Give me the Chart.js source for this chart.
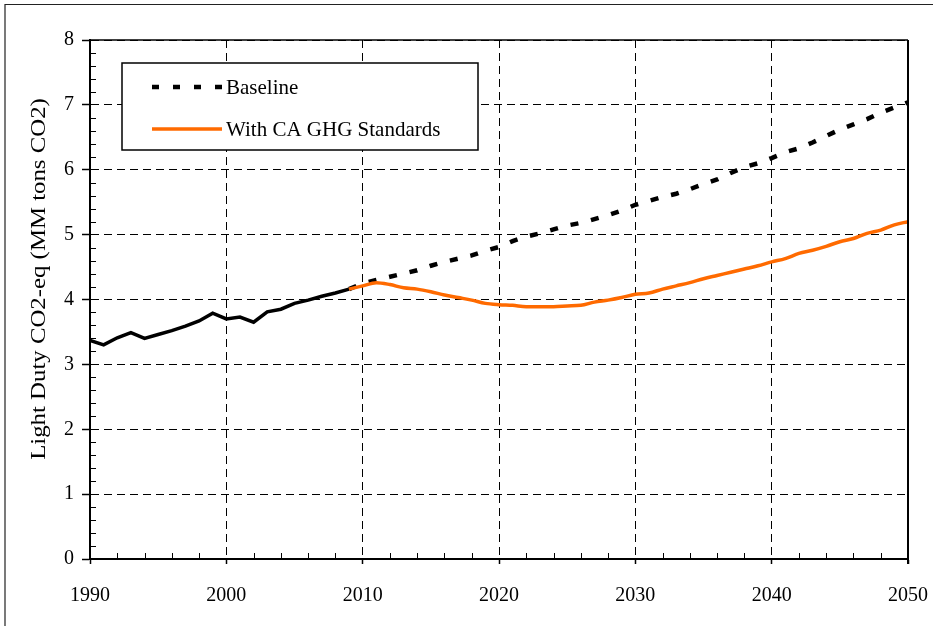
<!DOCTYPE html>
<html>
<head>
<meta charset="utf-8">
<script src="https://cdn.jsdelivr.net/npm/chart.js@4/dist/chart.umd.min.js"></script>
<style>
    html, body { margin: 0; padding: 0; background: #fff; }
    #wrap { width: 933px; height: 626px; position: relative; }
</style>
</head>
<body>
<div id="wrap"><canvas id="co2Chart" width="933" height="626"></canvas></div>
<script>
// Данные графика
const histYears = [1990, 1991, 1992, 1993, 1994, 1995, 1996, 1997, 1998, 1999,
                   2000, 2001, 2002, 2003, 2004, 2005, 2006, 2007, 2008, 2009];
const histValues = [3.37, 3.30, 3.41, 3.49, 3.40, 3.46, 3.52, 3.59, 3.67, 3.79,
                    3.70, 3.73, 3.65, 3.81, 3.85, 3.94, 3.99, 4.05, 4.10, 4.16];

const projYears = [2009, 2010, 2011, 2012, 2013, 2014, 2015, 2016, 2017, 2018, 2019,
                   2020, 2021, 2022, 2023, 2024, 2025, 2026, 2027, 2028, 2029,
                   2030, 2031, 2032, 2033, 2034, 2035, 2036, 2037, 2038, 2039,
                   2040, 2041, 2042, 2043, 2044, 2045, 2046, 2047, 2048, 2049, 2050];
const baselineValues = [4.16, 4.25, 4.30, 4.35, 4.40, 4.45, 4.52, 4.58, 4.63, 4.68, 4.75,
                        4.81, 4.90, 4.97, 5.02, 5.08, 5.14, 5.18, 5.24, 5.30, 5.37,
                        5.46, 5.52, 5.58, 5.63, 5.70, 5.78, 5.85, 5.95, 6.04, 6.10,
                        6.18, 6.27, 6.33, 6.42, 6.52, 6.62, 6.70, 6.78, 6.88, 6.96, 7.04];
const standardsValues = [4.16, 4.21, 4.26, 4.23, 4.18, 4.16, 4.12, 4.07, 4.03, 3.99, 3.94,
                         3.92, 3.91, 3.89, 3.89, 3.89, 3.90, 3.91, 3.96, 3.99, 4.03,
                         4.08, 4.10, 4.16, 4.21, 4.26, 4.32, 4.37, 4.42, 4.47, 4.52,
                         4.58, 4.63, 4.71, 4.76, 4.82, 4.89, 4.94, 5.02, 5.07, 5.15, 5.20];

const seriesNames = ['Baseline', 'With CA GHG Standards'];
const yTitle = 'Light Duty CO2-eq (MM tons CO2)';
const xTicks = [1990, 2000, 2010, 2020, 2030, 2040, 2050];
const yTicks = [0, 1, 2, 3, 4, 5, 6, 7, 8];

const FONT = '"Liberation Serif", "Times New Roman", serif';
const ORANGE = '#ff6a00';

const toPoints = (xs, ys) => xs.map((x, i) => ({ x: x, y: ys[i] }));

// Рамка, мелкие засечки, подпись оси и легенда
const decorPlugin = {
    id: 'decor',
    beforeDraw(chart) {
        const ctx = chart.ctx;
        ctx.save();
        ctx.fillStyle = '#fff';
        ctx.fillRect(0, 0, chart.width, chart.height);
        // внешняя рамка (слева и сверху)
        ctx.strokeStyle = '#222';
        ctx.lineWidth = 1.2;
        ctx.beginPath();
        ctx.moveTo(5, chart.height);
        ctx.lineTo(5, 4.5);
        ctx.lineTo(chart.width, 4.5);
        ctx.stroke();
        ctx.restore();
    },
    afterDatasetsDraw(chart) {
        const ctx = chart.ctx;
        const a = chart.chartArea;
        const xs = chart.scales.x;
        const ys = chart.scales.y;
        ctx.save();

        // верх и правая граница области графика
        ctx.strokeStyle = '#000';
        ctx.lineWidth = 1.5;
        ctx.beginPath();
        ctx.moveTo(a.left, a.top);
        ctx.lineTo(a.right, a.top);
        ctx.stroke();
        ctx.lineWidth = 2;
        ctx.beginPath();
        ctx.moveTo(a.right, a.top);
        ctx.lineTo(a.right, a.bottom + 5);
        ctx.stroke();

        // мелкие засечки
        ctx.lineWidth = 1;
        ctx.beginPath();
        for (let v = 0.2; v < 8; v += 0.2) {
            if (Math.abs(v - Math.round(v)) < 0.01) continue;
            const py = Math.round(ys.getPixelForValue(v)) + 0.5;
            ctx.moveTo(a.left, py);
            ctx.lineTo(a.left + 6, py);
        }
        for (let yr = 1992; yr < 2050; yr += 2) {
            if (yr % 10 === 0) continue;
            const px = Math.round(xs.getPixelForValue(yr)) + 0.5;
            ctx.moveTo(px, a.bottom);
            ctx.lineTo(px, a.bottom - 6);
        }
        ctx.stroke();

        // подпись оси Y
        ctx.fillStyle = '#000';
        ctx.font = '20px ' + FONT;
        ctx.textAlign = 'center';
        ctx.textBaseline = 'middle';
        ctx.translate(40, 279);
        ctx.rotate(-Math.PI / 2);
        ctx.scale(1.24, 1);
        ctx.fillText(yTitle, 0, 0);
        ctx.setTransform(1, 0, 0, 1, 0, 0);

        // легенда
        ctx.fillStyle = '#fff';
        ctx.fillRect(122, 63, 356, 87);
        ctx.strokeStyle = '#000';
        ctx.lineWidth = 1.5;
        ctx.strokeRect(122, 63, 356, 87);

        const ds = chart.data.datasets;
        const rows = [
            { d: ds[2], y: 87 },
            { d: ds[0], y: 129 }
        ];
        rows.forEach(r => {
            ctx.strokeStyle = r.d.borderColor;
            ctx.lineWidth = r.d.borderDash.length ? 4.5 : 3.5;
            ctx.setLineDash(r.d.borderDash.length ? [7, 14] : []);
            ctx.beginPath();
            ctx.moveTo(152, r.y);
            ctx.lineTo(222, r.y);
            ctx.stroke();
            ctx.setLineDash([]);
            ctx.fillStyle = '#000';
            ctx.font = '21px ' + FONT;
            ctx.textAlign = 'left';
            ctx.textBaseline = 'middle';
            ctx.fillText(r.d.label, 226, r.y + 1);
        });
        ctx.restore();
    }
};

const ctx = document.getElementById('co2Chart').getContext('2d');

new Chart(ctx, {
    type: 'line',
    data: {
        datasets: [
            {
                label: seriesNames[1],
                data: toPoints(projYears, standardsValues),
                borderColor: ORANGE,
                borderWidth: 3.5,
                borderDash: [],
                pointRadius: 0,
                cubicInterpolationMode: 'monotone'
            },
            {
                label: 'Historical',
                data: toPoints(histYears, histValues),
                borderColor: '#000',
                borderWidth: 3.5,
                borderDash: [],
                pointRadius: 0,
                tension: 0
            },
            {
                label: seriesNames[0],
                data: toPoints(projYears, baselineValues),
                borderColor: '#000',
                borderWidth: 4.5,
                borderDash: [8, 13],
                borderCapStyle: 'butt',
                pointRadius: 0,
                tension: 0
            }
        ]
    },
    options: {
        responsive: false,
        animation: false,
        devicePixelRatio: 1,
        layout: { padding: { left: 0, top: 40, right: 25, bottom: 0 } },
        plugins: {
            legend: { display: false },
            tooltip: { enabled: false }
        },
        scales: {
            x: {
                type: 'linear',
                min: 1990,
                max: 2050,
                afterBuildTicks: scale => { scale.ticks = xTicks.map(v => ({ value: v })); },
                afterFit: scale => {
                    scale.height = 67;
                    scale.paddingLeft = 0;
                    scale.paddingRight = 0;
                },
                ticks: {
                    color: '#000',
                    font: { family: FONT, size: 20 },
                    padding: 20,
                    maxRotation: 0,
                    callback: v => String(v)
                },
                grid: {
                    color: '#000',
                    lineWidth: 1,
                    tickBorderDash: [],
                    tickLength: 5,
                    tickWidth: 1.5,
                    tickColor: '#000'
                },
                border: { display: true, color: '#000', width: 2, dash: [8, 5] }
            },
            y: {
                min: 0,
                max: 8,
                afterBuildTicks: scale => { scale.ticks = yTicks.map(v => ({ value: v })); },
                afterFit: scale => {
                    scale.width = 90;
                    scale.paddingTop = 0;
                    scale.paddingBottom = 0;
                },
                ticks: {
                    color: '#000',
                    font: { family: FONT, size: 20 },
                    padding: 8
                },
                grid: {
                    color: '#000',
                    lineWidth: 1,
                    tickBorderDash: [],
                    tickLength: 8,
                    tickWidth: 1.5,
                    tickColor: '#000'
                },
                border: { display: true, color: '#000', width: 2, dash: [8, 5] }
            }
        }
    },
    plugins: [decorPlugin]
});
</script>
</body>
</html>
